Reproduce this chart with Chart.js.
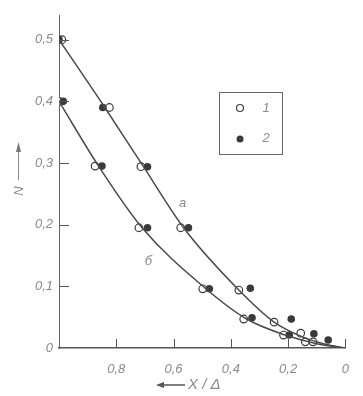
<!DOCTYPE html>
<html>
<head>
<meta charset="utf-8">
<script src="https://cdn.jsdelivr.net/npm/chart.js@4/dist/chart.umd.min.js"></script>
<style>
  body { margin: 0; background: #fff; }
  #chart { display: block; }
</style>
</head>
<body>
<canvas id="chart" width="363" height="396"></canvas>
<script>
// tick labels
const xTicks = [1.0, 0.8, 0.6, 0.4, 0.2, 0];
const yTicks = [0, 0.1, 0.2, 0.3, 0.4, 0.5];

// curve a, series 1 (open) and 2 (filled)
const openAx = [0.99, 0.824, 0.714, 0.575, 0.372, 0.249, 0.156, 0.113];
const openAy = [0.5, 0.39, 0.294, 0.195, 0.094, 0.042, 0.024, 0.01];
const fillAx = [1.0, 0.847, 0.691, 0.548, 0.332, 0.189, 0.11, 0.06];
const fillAy = [0.5, 0.39, 0.294, 0.195, 0.097, 0.047, 0.023, 0.013];

// curve b, series 1 (open) and 2 (filled)
const openBx = [1.0, 0.874, 0.721, 0.498, 0.355, 0.216, 0.14];
const openBy = [0.4, 0.295, 0.195, 0.096, 0.047, 0.021, 0.01];
const fillBx = [0.985, 0.85, 0.691, 0.475, 0.326, 0.196];
const fillBy = [0.4, 0.295, 0.195, 0.096, 0.049, 0.021];

// smooth curves drawn through the points
const lineAx = [0, 0.07, 0.15, 0.249, 0.372, 0.565, 0.705, 0.84, 1.0];
const lineAy = [0, 0.006, 0.018, 0.042, 0.094, 0.195, 0.294, 0.39, 0.5];
const lineBx = [0, 0.1, 0.21, 0.345, 0.487, 0.71, 0.862, 1.0];
const lineBy = [0, 0.007, 0.021, 0.047, 0.096, 0.195, 0.295, 0.4];

const pts = (xs, ys) => xs.map((x, i) => ({ x: x, y: ys[i] }));
const fmt = (v) => (v === 0 ? "0" : v.toFixed(1).replace(".", ","));

const ink = "#3a3a3a";
const labelColor = "#8a8a8a";
const italic = "italic 13px 'Liberation Sans'";

// tick marks inside the plot, legend box, curve letters, axis titles
const decor = {
  id: "decor",
  afterDraw(chart) {
    const ctx = chart.ctx;
    const x = chart.scales.x;
    const y = chart.scales.y;
    const area = chart.chartArea;
    ctx.save();
    ctx.strokeStyle = "#555";
    ctx.lineWidth = 1;
    ctx.beginPath();
    yTicks.slice(1).forEach((v) => {
      const py = Math.round(y.getPixelForValue(v)) + 0.5;
      ctx.moveTo(area.left, py);
      ctx.lineTo(area.left + 10, py);
    });
    xTicks.slice(1).forEach((v) => {
      const px = Math.round(x.getPixelForValue(v)) + 0.5;
      ctx.moveTo(px, area.bottom);
      ctx.lineTo(px, area.bottom - 9);
    });
    ctx.stroke();

    // legend
    ctx.strokeStyle = "#666";
    ctx.strokeRect(219.5, 92.5, 63, 62);
    ctx.beginPath();
    ctx.arc(240, 108, 3.5, 0, Math.PI * 2);
    ctx.fillStyle = "#fff";
    ctx.fill();
    ctx.strokeStyle = ink;
    ctx.lineWidth = 1.2;
    ctx.stroke();
    ctx.beginPath();
    ctx.arc(240, 139, 3.5, 0, Math.PI * 2);
    ctx.fillStyle = ink;
    ctx.fill();
    ctx.fillStyle = labelColor;
    ctx.font = italic;
    ctx.textAlign = "center";
    ctx.textBaseline = "middle";
    ctx.fillText("1", 266, 108);
    ctx.fillText("2", 266, 138);

    // curve letters
    ctx.fillText("а", x.getPixelForValue(0.568), y.getPixelForValue(0.235));
    ctx.fillText("б", x.getPixelForValue(0.688), y.getPixelForValue(0.14));

    // x title with arrow
    ctx.strokeStyle = "#555";
    ctx.lineWidth = 1.5;
    ctx.beginPath();
    ctx.moveTo(185, 385);
    ctx.lineTo(158, 385);
    ctx.stroke();
    ctx.beginPath();
    ctx.moveTo(156, 385);
    ctx.lineTo(164, 382);
    ctx.lineTo(164, 388);
    ctx.closePath();
    ctx.fillStyle = "#555";
    ctx.fill();
    ctx.fillStyle = labelColor;
    ctx.font = "italic 15px 'Liberation Sans'";
    ctx.textAlign = "left";
    ctx.fillText("X / Δ", 188, 385);

    // y title with arrow
    ctx.strokeStyle = "#888";
    ctx.lineWidth = 1;
    ctx.beginPath();
    ctx.moveTo(18.5, 180);
    ctx.lineTo(18.5, 146);
    ctx.stroke();
    ctx.beginPath();
    ctx.moveTo(18.5, 142);
    ctx.lineTo(16, 152);
    ctx.lineTo(21, 152);
    ctx.closePath();
    ctx.fillStyle = "#777";
    ctx.fill();
    ctx.translate(19, 191);
    ctx.rotate(-Math.PI / 2);
    ctx.fillStyle = labelColor;
    ctx.font = "italic 13px 'Liberation Sans'";
    ctx.textAlign = "center";
    ctx.fillText("N", 0, 0);
    ctx.restore();
  },
};

const lineStyle = {
  showLine: true,
  pointRadius: 0,
  borderColor: "#4a4a4a",
  borderWidth: 1.5,
  cubicInterpolationMode: "monotone",
  fill: false,
};

new Chart(document.getElementById("chart").getContext("2d"), {
  type: "scatter",
  data: {
    datasets: [
      Object.assign({ label: "a", data: pts(lineAx, lineAy) }, lineStyle),
      Object.assign({ label: "b", data: pts(lineBx, lineBy) }, lineStyle),
      {
        label: "2",
        data: pts(fillAx, fillAy).concat(pts(fillBx, fillBy)),
        pointRadius: 3.8,
        pointBackgroundColor: ink,
        pointBorderColor: ink,
        pointBorderWidth: 0,
      },
      {
        label: "1",
        data: pts(openAx, openAy).concat(pts(openBx, openBy)),
        pointRadius: 3.8,
        pointBackgroundColor: "#fff",
        pointBorderColor: ink,
        pointBorderWidth: 1.2,
      },
    ],
  },
  options: {
    responsive: false,
    animation: false,
    layout: { padding: { top: 15, right: 3, left: 0, bottom: 0 } },
    plugins: {
      legend: { display: false },
      tooltip: { enabled: false },
    },
    scales: {
      x: {
        type: "linear",
        reverse: true,
        min: 0,
        max: 1,
        afterFit: (s) => {
          s.height = 48;
        },
        afterBuildTicks: (s) => {
          s.ticks = xTicks.map((v) => ({ value: v }));
        },
        grid: { display: false, drawTicks: false },
        border: { display: true, color: "#555", width: 1.5 },
        ticks: {
          padding: 14,
          color: labelColor,
          font: { family: "Liberation Sans", style: "italic", size: 13 },
          callback: (v) => (v === 1 ? "" : fmt(v)),
          maxRotation: 0,
        },
      },
      y: {
        type: "linear",
        min: 0,
        max: 0.54,
        afterFit: (s) => {
          s.width = 59;
        },
        afterBuildTicks: (s) => {
          s.ticks = yTicks.map((v) => ({ value: v }));
        },
        grid: { display: false, drawTicks: false },
        border: { display: true, color: "#666", width: 1 },
        ticks: {
          padding: 6,
          color: labelColor,
          font: { family: "Liberation Sans", style: "italic", size: 13 },
          callback: (v) => fmt(v),
        },
      },
    },
  },
  plugins: [decor],
});
</script>
</body>
</html>
